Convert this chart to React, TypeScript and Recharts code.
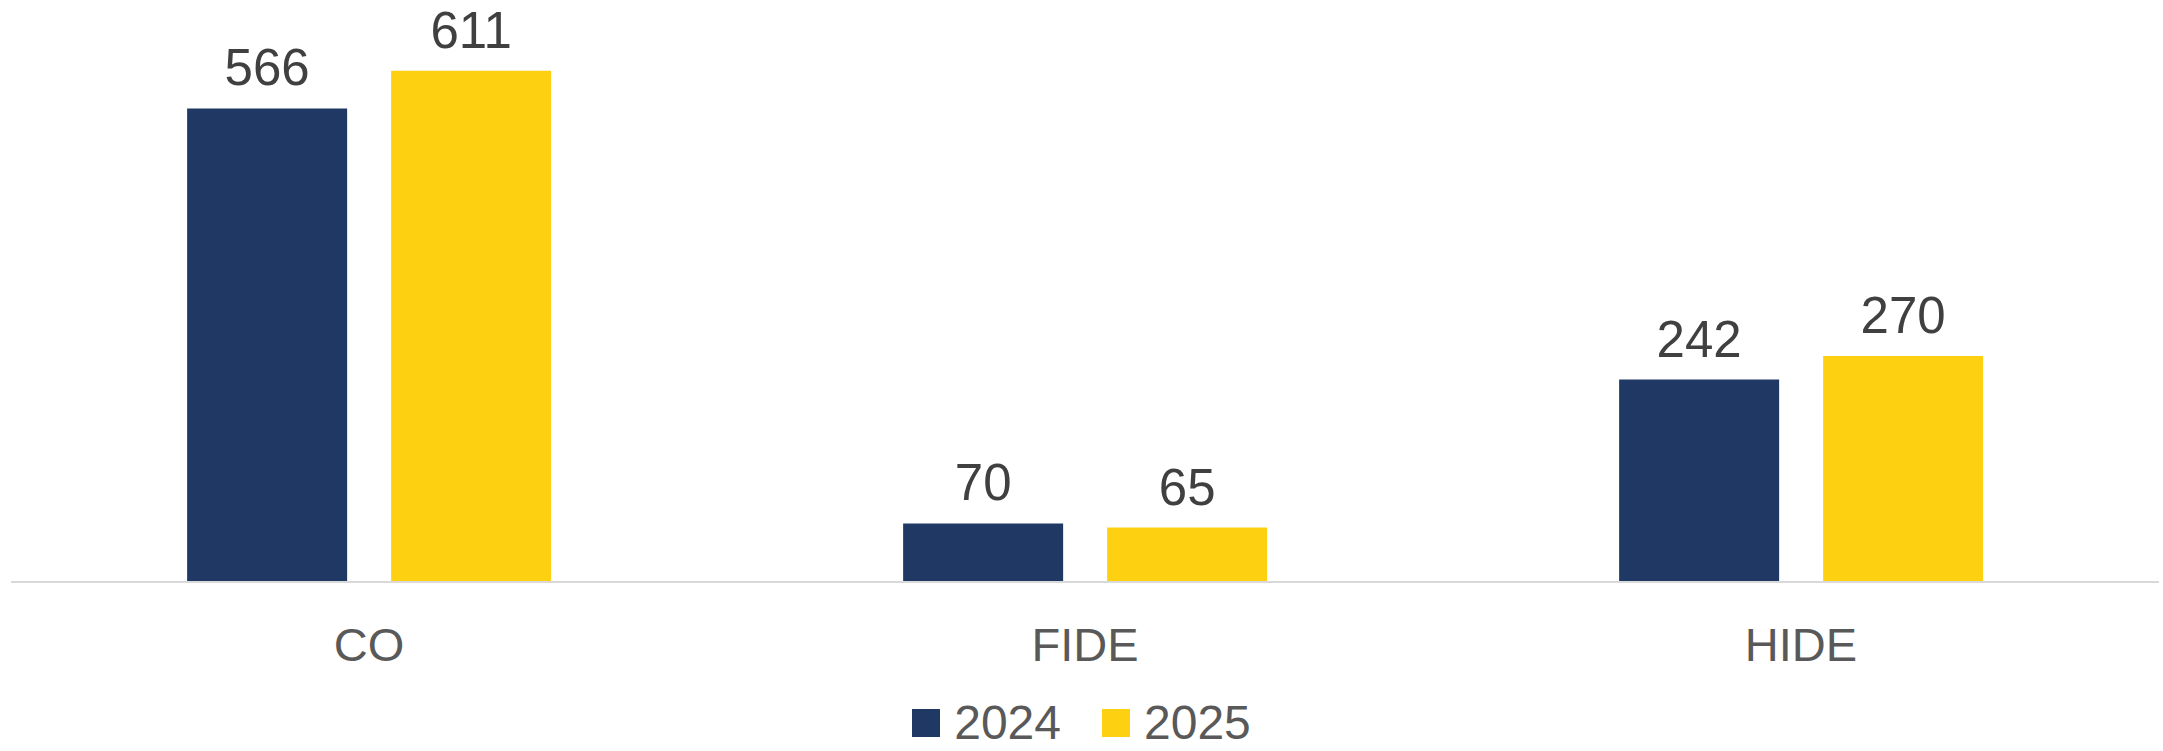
import React from 'react';
import { BarChart, Bar, XAxis, YAxis, LabelList, Legend } from 'recharts';

const categories = ['CO', 'FIDE', 'HIDE'];
const values2024 = [566, 70, 242];
const values2025 = [611, 65, 270];
const seriesNames = ['2024', '2025'];
const seriesColors = ['#1f3864', '#fdd012'];

const chartData = categories.map((name, i) => ({
    name,
    '2024': values2024[i],
    '2025': values2025[i],
}));

const FONT = '"Liberation Sans", Arial, sans-serif';

// custom legend so the square size and spacing match the original
function LegendContent() {
    return (
        <div
            style={{
                display: 'flex',
                justifyContent: 'center',
                alignItems: 'center',
                height: 54,
                lineHeight: '54px',
                fontFamily: FONT,
                fontSize: 48,
                color: '#595959',
            }}
        >
            {seriesNames.map((s, i) => (
                <div key={s} style={{ display: 'flex', alignItems: 'center', marginRight: i === 0 ? 41 : 0 }}>
                    <div style={{ width: 28, height: 28, background: seriesColors[i], marginRight: 14 }} />
                    <span>{s}</span>
                </div>
            ))}
        </div>
    );
}

function App() {
    return (
        <div style={{ width: 2163, height: 751, background: '#fff' }}>
            <style>{'body{margin:0}'}</style>
            <BarChart
                width={2163}
                height={751}
                data={chartData}
                margin={{ top: 13, right: 4, left: 11, bottom: 85 }}
                barGap={44}
                barCategoryGap="24.6%"
            >
                <XAxis
                    dataKey="name"
                    axisLine={{ stroke: '#d9d9d9', strokeWidth: 2 }}
                    tickLine={false}
                    tickSize={0}
                    tickMargin={46}
                    tick={{ fill: '#595959', fontSize: 47, fontFamily: FONT }}
                />
                <YAxis hide domain={[0, 680]} />
                <Legend
                    verticalAlign="bottom"
                    content={<LegendContent />}
                    wrapperStyle={{ top: 696, left: 0, width: 2163 }}
                />
                {seriesNames.map((s, i) => (
                    <Bar key={s} dataKey={s} fill={seriesColors[i]} isAnimationActive={false}>
                        <LabelList
                            dataKey={s}
                            position="top"
                            offset={23}
                            fill="#404040"
                            fontSize={51}
                            fontFamily={FONT}
                        />
                    </Bar>
                ))}
            </BarChart>
        </div>
    );
}

export default App;
